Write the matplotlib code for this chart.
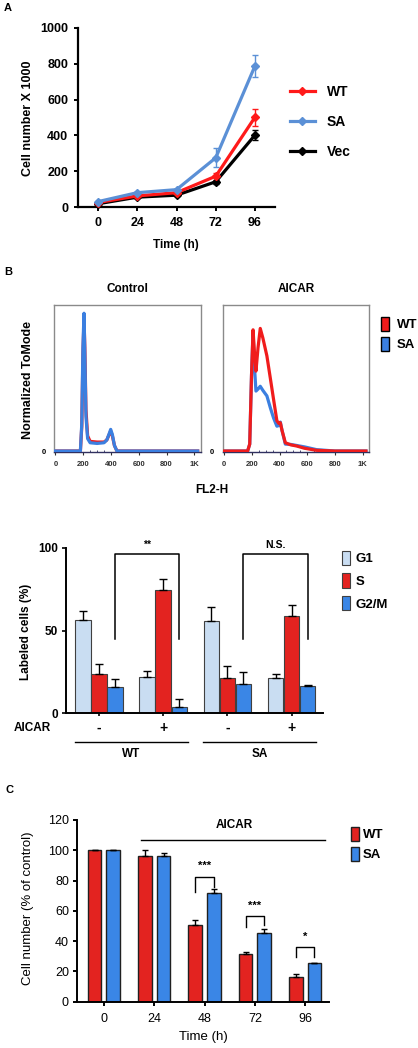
import matplotlib
matplotlib.use('agg')
import matplotlib.pyplot as plt
from matplotlib.patches import Patch
from matplotlib.lines import Line2D
import numpy as np

plt.rcParams['font.family'] = ['Liberation Sans', 'DejaVu Sans']

# ---- data ----
# panel A: growth curves
time_h = [0, 24, 48, 72, 96]
wt_cells = [25, 62, 80, 172, 502]
wt_err = [3, 5, 6, 20, 47]
sa_cells = [30, 80, 97, 275, 789]
sa_err = [4, 6, 6, 53, 60]
vec_cells = [18, 55, 66, 141, 402]
vec_err = [3, 4, 5, 10, 28]

# panel B top: flow histograms (FL2-H, normalized to mode)
ctrl_x = [0, 180, 190, 198, 206, 212, 220, 232, 250, 300, 350, 370, 385, 398, 410, 425, 443, 470, 1024]
ctrl_sa = [0, 0, 20, 75, 100, 70, 25, 9, 6, 5.5, 6, 8, 12, 15.7, 12, 4, 0, 0, 0]
ctrl_wt = [0, 0, 18, 70, 96, 75, 30, 11, 7, 6.5, 6.5, 8, 11.5, 14.5, 11, 4, 0, 0, 0]
aicar_x = [0, 170, 185, 198, 209, 220, 230, 245, 261, 280, 309, 335, 357, 381, 395, 406, 418, 442, 480, 525, 580, 667, 800, 1024]
aicar_wt = [0, 0, 5, 55, 88, 70, 58, 75, 89, 82, 69, 52, 37.5, 22, 20, 20.5, 15, 6, 4.5, 3.6, 2, 0.5, 0, 0]
aicar_sa = [0, 0, 5, 55, 86, 60, 43.5, 45, 47, 44, 40, 31, 24, 18, 18.5, 21, 15, 5, 4.8, 4, 3, 1, 0, 0]
fl2_ticks = [0, 200, 400, 600, 800, 1000]
fl2_labels = ['0', '200', '400', '600', '800', '1K']

# panel B bottom: cell cycle phases
cc_groups = ['-', '+', '-', '+']
cc_lines = ['WT', 'SA']
g1_pct = [56.3, 21.9, 55.7, 21.3]
g1_err = [5.7, 3.6, 8.3, 2.4]
s_pct = [23.7, 74.5, 21.3, 58.6]
s_err = [6.3, 6.5, 7.5, 7.0]
g2_pct = [15.7, 4.0, 17.5, 16.7]
g2_err = [5.0, 4.6, 7.5, 0.6]

# panel C: AICAR survival
c_time = ['0', '24', '48', '72', '96']
c_wt = [100, 96.5, 50.5, 31.5, 16.5]
c_wt_err = [0, 3.5, 3.5, 1.5, 1.5]
c_sa = [100, 96, 71.6, 45.2, 25.4]
c_sa_err = [0, 2.5, 2.6, 2.6, 0.4]

RED = '#ff1a1a'
LBLUE = '#5b90d6'
BAR_RED = '#e32320'
BAR_BLUE = '#3a86e6'
PALE = '#c9ddf2'

W, H = 418, 1048
fig = plt.figure(figsize=(W / 100, H / 100), dpi=100)


def px_axes(left, top, right, bottom):
    return fig.add_axes([left / W, 1 - bottom / H, (right - left) / W, (bottom - top) / H])


def ftxt(x, y, s, **kw):
    fig.text(x / W, 1 - y / H, s, **kw)


# ===== Panel A =====
ax = px_axes(78, 28, 275, 207)
for vals, err, col in [(vec_cells, vec_err, 'black'), (wt_cells, wt_err, RED), (sa_cells, sa_err, LBLUE)]:
    ax.errorbar(time_h, vals, yerr=err, color=col, lw=2.3, marker='D', ms=4,
                capsize=2, elinewidth=1, capthick=1, clip_on=False, zorder=3)
ax.set_xlim(-12.2, 108.2)
ax.set_ylim(0, 1000)
ax.set_xticks(time_h)
ax.set_yticks(range(0, 1001, 200))
for s in ['top', 'right']:
    ax.spines[s].set_visible(False)
for s in ['left', 'bottom']:
    ax.spines[s].set_linewidth(1.6)
ax.tick_params(direction='out', length=3, width=1.4, labelsize=9, pad=4)
for lab in ax.get_xticklabels() + ax.get_yticklabels():
    lab.set_fontweight('bold')
ftxt(28, 118, 'Cell number X 1000', rotation=90, ha='center', va='center', fontsize=9, fontweight='bold')
ftxt(176, 245, 'Time (h)', ha='center', va='center', fontsize=8.5, fontweight='bold')
ftxt(8, 8, 'A', ha='center', va='center', fontsize=8, fontweight='bold')
handles = [Line2D([], [], color=RED, lw=2.3, marker='D', ms=4),
           Line2D([], [], color=LBLUE, lw=2.3, marker='D', ms=4),
           Line2D([], [], color='black', lw=2.3, marker='D', ms=4)]
leg = fig.legend(handles, ['WT', 'SA', 'Vec'], loc='center left',
                 bbox_to_anchor=(277 / W, 1 - 122 / H), frameon=False,
                 prop={'weight': 'bold', 'size': 10}, handlelength=1.8,
                 labelspacing=1.15, handletextpad=0.9)

# ===== Panel B top: histograms =====
ftxt(8, 272, 'B', ha='center', va='center', fontsize=8, fontweight='bold')
hist_panels = [(54, 201, 'Control', ctrl_x, ctrl_wt, ctrl_sa, False),
               (222.7, 369.3, 'AICAR', aicar_x, aicar_wt, aicar_sa, True)]
for left, right, title, xs, wt, sa, red_top in hist_panels:
    hx = px_axes(left, 305, right, 451.7)
    if red_top:
        hx.plot(xs, sa, color='#3b7fe0', lw=2.3, zorder=2)
        hx.plot(xs, wt, color='#f01c1c', lw=2.3, zorder=3)
    else:
        hx.plot(xs, wt, color='#f01c1c', lw=2.3, zorder=2)
        hx.plot(xs, sa, color='#3b7fe0', lw=2.3, zorder=3)
    hx.set_xlim(-10, 1048)
    hx.set_ylim(-0.5, 106)
    for s in hx.spines.values():
        s.set_color('#8a8a8a')
        s.set_linewidth(1)
    hx.spines['bottom'].set_color('#303060')
    hx.set_xticks(fl2_ticks)
    hx.set_xticklabels(fl2_labels)
    hx.set_xticks(np.arange(0, 1041, 50), minor=True)
    hx.set_yticks([0])
    hx.tick_params(axis='x', which='major', length=2.5, width=0.8, labelsize=5.5, pad=4, colors='#303030')
    hx.tick_params(axis='x', which='minor', length=1.5, width=0.6, direction='in', colors='#303060')
    hx.tick_params(axis='y', length=0, labelsize=5.5, pad=6)
    for lab in hx.get_xticklabels() + hx.get_yticklabels():
        lab.set_fontweight('bold')
    hx.set_title(title, fontsize=8.5, fontweight='bold', pad=9)
ftxt(28, 380, 'Normalized ToMode', rotation=90, ha='center', va='center', fontsize=9, fontweight='bold')
ftxt(212, 490, 'FL2-H', ha='center', va='center', fontsize=8.5, fontweight='bold')
hleg = fig.legend([Patch(facecolor='#f01c1c', edgecolor='black', lw=1),
                   Patch(facecolor='#3b7fe0', edgecolor='black', lw=1)], ['WT', 'SA'],
                  loc='upper left', bbox_to_anchor=(369 / W, 1 - 305 / H), frameon=False,
                  prop={'weight': 'bold', 'size': 9.5}, handlelength=0.6, handleheight=1.3,
                  labelspacing=0.4, handletextpad=0.6)

# ===== Panel B bottom: cell cycle bars =====
bx = px_axes(66, 547.7, 323, 713.3)
gx = np.arange(len(cc_groups))
bw = 0.24
for off, vals, err, col in [(-0.25, g1_pct, g1_err, PALE), (0, s_pct, s_err, BAR_RED), (0.25, g2_pct, g2_err, BAR_BLUE)]:
    bx.bar(gx + off, vals, bw, color=col, edgecolor='#404040', lw=0.8,
           yerr=[np.zeros(len(err)), err], capsize=3,
           error_kw={'elinewidth': 1, 'capthick': 1, 'ecolor': 'black'})
bx.set_xlim(-0.514, 3.49)
bx.set_ylim(0, 100)
bx.set_yticks([0, 50, 100])
bx.set_xticks(gx)
bx.set_xticklabels([])
for s in ['top', 'right']:
    bx.spines[s].set_visible(False)
bx.spines['left'].set_linewidth(1.4)
bx.spines['bottom'].set_linewidth(1.4)
bx.tick_params(axis='y', direction='out', length=3, width=1.2, labelsize=8.5, pad=3)
bx.tick_params(axis='x', direction='out', length=2, width=1.2)
for lab in bx.get_yticklabels():
    lab.set_fontweight('bold')
ftxt(26, 632, 'Labeled cells (%)', rotation=90, ha='center', va='center', fontsize=8.5, fontweight='bold')
# significance brackets
for g0, g1, txt in [(0.25, 1.25, '**'), (2.25, 3.25, 'N.S.')]:
    bx.plot([g0, g0, g1, g1], [44.7, 96.4, 96.4, 44.7], color='black', lw=1.1, clip_on=False)
    bx.text((g0 + g1) / 2, 98.5, txt, ha='center', va='bottom', fontsize=7.5, fontweight='bold')
xt = bx.get_xaxis_transform()
for g, sign in zip(gx, cc_groups):
    bx.text(g, -0.09, sign, transform=xt, ha='center', va='center', fontsize=10, fontweight='bold')
bx.text(-0.132, -0.09, 'AICAR', transform=bx.transAxes, ha='center', va='center',
        fontsize=8.5, fontweight='bold')
for k, name in enumerate(cc_lines):
    a, b = gx[2 * k] - 0.374, gx[2 * k + 1] + 0.38
    bx.plot([a, b], [-0.175, -0.175], transform=xt, color='black', lw=1, clip_on=False)
    bx.text((a + b) / 2, -0.245, name, transform=xt, ha='center', va='center',
            fontsize=8.5, fontweight='bold')
bleg = fig.legend([Patch(facecolor=PALE, edgecolor='#404040', lw=0.8),
                   Patch(facecolor=BAR_RED, edgecolor='#404040', lw=0.8),
                   Patch(facecolor=BAR_BLUE, edgecolor='#404040', lw=0.8)], ['G1', 'S', 'G2/M'],
                  loc='upper left', bbox_to_anchor=(330 / W, 1 - 539 / H), frameon=False,
                  prop={'weight': 'bold', 'size': 9.5}, handlelength=0.65, handleheight=1.3,
                  labelspacing=0.6, handletextpad=0.4)

# ===== Panel C =====
ftxt(9, 790, 'C', ha='center', va='center', fontsize=8, fontweight='bold')
cx = px_axes(77.3, 820, 329.3, 1001.7)
cxs = np.arange(len(c_time))
cw = 0.27
cx.bar(cxs - 0.185, c_wt, cw, color=BAR_RED, edgecolor='#202020', lw=1,
       yerr=[np.zeros(5), c_wt_err], capsize=2.5, error_kw={'elinewidth': 1, 'capthick': 1})
cx.bar(cxs + 0.185, c_sa, cw, color=BAR_BLUE, edgecolor='#202020', lw=1,
       yerr=[np.zeros(5), c_sa_err], capsize=2.5, error_kw={'elinewidth': 1, 'capthick': 1})
cx.set_xlim(-0.53, 4.48)
cx.set_ylim(0, 120)
cx.set_yticks(range(0, 121, 20))
cx.set_xticks(cxs)
cx.set_xticklabels(c_time)
for s in ['top', 'right']:
    cx.spines[s].set_visible(False)
cx.spines['left'].set_linewidth(1.4)
cx.spines['bottom'].set_linewidth(1.4)
cx.tick_params(direction='out', length=3, width=1.4, labelsize=9, pad=3)
cx.tick_params(axis='x', pad=5)
ftxt(28, 908, 'Cell number (% of control)', rotation=90, ha='center', va='center', fontsize=9.5)
ftxt(203, 1037, 'Time (h)', ha='center', va='center', fontsize=9.5)
# AICAR bar
cx.plot([0.73, 4.4], [106.7, 106.7], color='black', lw=1, clip_on=False)
cx.text(2.6, 116.5, 'AICAR', ha='center', va='center', fontsize=8.5, fontweight='bold')
for i, top, lleg, rleg, txt in [(2, 82.6, 72.7, 75.5, '***'), (3, 56.6, 49.5, 50.5, '***'), (4, 35.9, 29.7, 29.7, '*')]:
    a, b = cxs[i] - 0.185, cxs[i] + 0.185
    cx.plot([a, a, b, b], [lleg, top, top, rleg], color='black', lw=1)
    cx.text((a + b) / 2, top + 3.5, txt, ha='center', va='bottom', fontsize=8, fontweight='bold')
cleg = fig.legend([Patch(facecolor=BAR_RED, edgecolor='#202020', lw=1),
                   Patch(facecolor=BAR_BLUE, edgecolor='#202020', lw=1)], ['WT', 'SA'],
                  loc='upper left', bbox_to_anchor=(339 / W, 1 - 815 / H), frameon=False,
                  prop={'weight': 'bold', 'size': 9.5}, handlelength=0.6, handleheight=1.3,
                  labelspacing=0.4, handletextpad=0.3)

fig.savefig('out.png', dpi=100)
